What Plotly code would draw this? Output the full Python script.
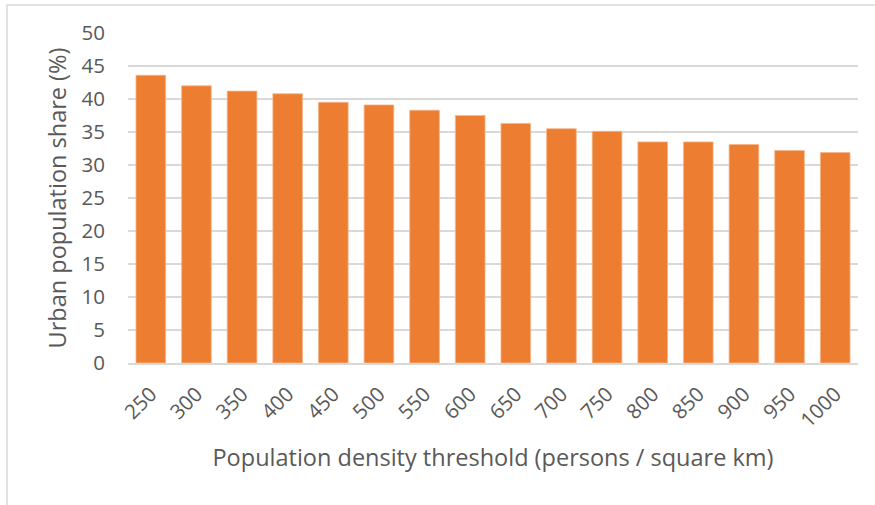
import plotly.graph_objects as go

# Population density thresholds (persons / square km) and urban share (%)
thresholds = ["250", "300", "350", "400", "450", "500", "550", "600",
              "650", "700", "750", "800", "850", "900", "950", "1000"]
urban_share = [43.6, 42.0, 41.2, 40.8, 39.5, 39.1, 38.3, 37.5,
               36.3, 35.5, 35.1, 33.5, 33.5, 33.1, 32.2, 31.9]
y_ticks = [0, 5, 10, 15, 20, 25, 30, 35, 40, 45, 50]

FONT = "Open Sans, Noto Sans, sans-serif"
TEXT = "#595959"
GRID = "#D9D9D9"

fig = go.Figure(
    go.Bar(
        x=thresholds,
        y=urban_share,
        marker=dict(color="#ED7D31", line=dict(color="#F6B68A", width=0.8)),
    )
)

W, H = 875, 505
L, R, T, B = 128, 17, 33, 142
pw, ph = W - L - R, H - T - B

# light outer frame around the chart area
fig.add_shape(
    type="rect", xref="paper", yref="paper",
    x0=(7 - L) / pw, x1=(880 - L) / pw,
    y0=(H - B - 510) / ph, y1=(H - B - 5) / ph,
    line=dict(color="#D9D9D9", width=1.5), fillcolor="rgba(0,0,0,0)",
    layer="below",
)

fig.update_layout(
    width=W, height=H,
    margin=dict(l=L, r=R, t=T, b=B),
    paper_bgcolor="white", plot_bgcolor="white",
    bargap=0.35,
    showlegend=False,
    font=dict(family=FONT, color=TEXT, size=20),
    xaxis=dict(
        tickangle=-45,
        tickfont=dict(size=20.5, color=TEXT),
        ticks="outside", ticklen=9, tickcolor="rgba(0,0,0,0)",
        showline=True, linecolor=GRID, linewidth=2,
        title=dict(text="Population density threshold (persons / square km)",
                   font=dict(size=23.5, color=TEXT), standoff=18),
    ),
    yaxis=dict(
        range=[0, 50],
        tickvals=y_ticks,
        tickfont=dict(size=20.5, color=TEXT),
        ticks="outside", ticklen=18, tickcolor="rgba(0,0,0,0)",
        showgrid=True, gridcolor=GRID, gridwidth=2,
        zeroline=False,
        title=dict(text="Urban population share (%)",
                   font=dict(size=23.5, color=TEXT), standoff=8),
    ),
)

fig.write_html("out.html")
